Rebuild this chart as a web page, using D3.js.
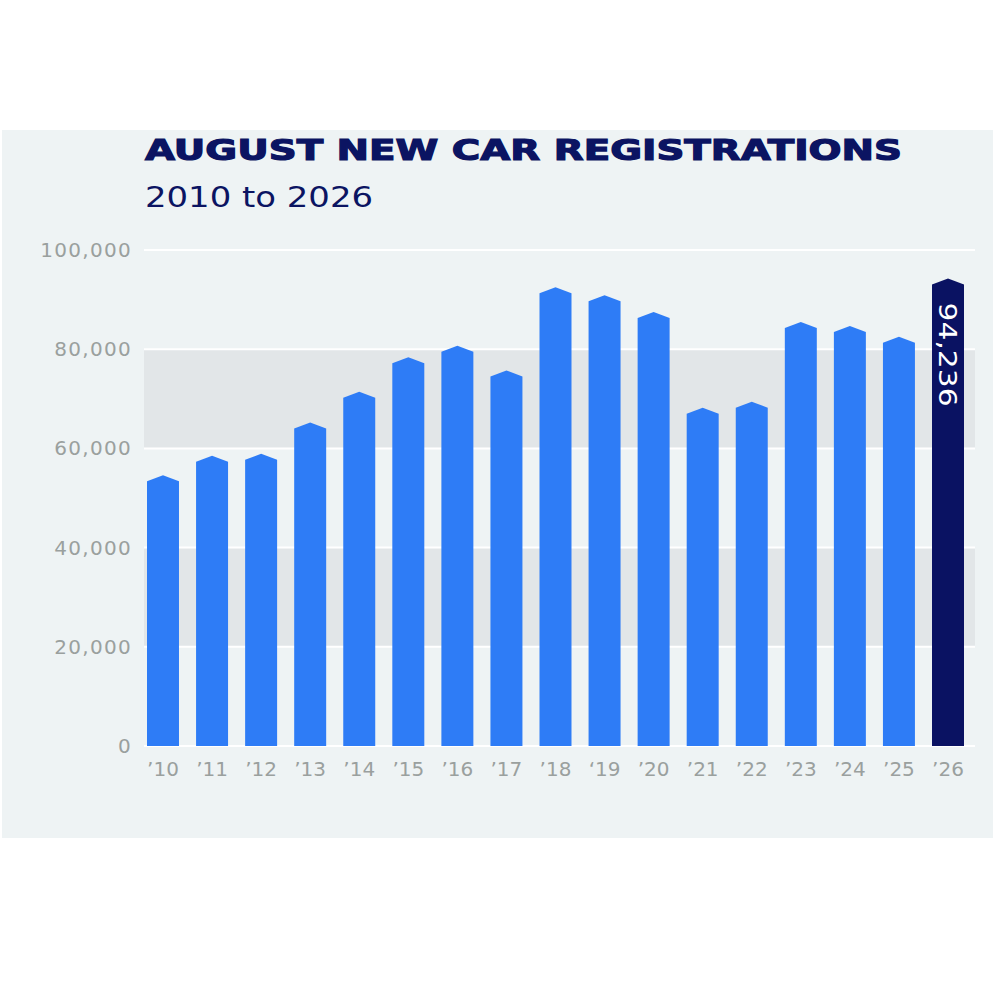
<!DOCTYPE html>
<html>
<head>
<meta charset="utf-8">
<script src="https://cdn.jsdelivr.net/npm/d3@7"></script>
<style>
  html, body { margin: 0; padding: 0; background: #ffffff; }
  svg { display: block; }
</style>
</head>
<body>
<svg id="chart" width="995" height="995"></svg>
<script>
// ---- data ----
const titleText = "AUGUST NEW CAR REGISTRATIONS";
const subtitleText = "2010 to 2026";
const years = ["’10","’11","’12","’13","’14","’15","’16","’17","’18","‘19","’20","’21","’22","’23","’24","’25","’26"];
const registrations = [54600, 58500, 58900, 65200, 71400, 78400, 80700, 75700, 92500, 90900, 87500, 68200, 69400, 85500, 84700, 82500, 94236];
const yTicks = [0, 20000, 40000, 60000, 80000, 100000];
const highlightIndex = 16;
const highlightLabel = "94,236";

// ---- style ----
const panelColor = "#eef3f4";
const bandColor = "#e2e6e8";
const barColor = "#2e7cf6";
const highlightColor = "#0a1262";
const navy = "#0b1462";
const tickColor = "#9aa09e";

const svg = d3.select("#chart");

// panel
svg.append("rect").attr("x", 2).attr("y", 130).attr("width", 991).attr("height", 708).attr("fill", panelColor);

const x = d3.scaleBand().domain(years).range([147, 964]).paddingInner(0.348).paddingOuter(0);
const y = d3.scaleLinear().domain([0, 100000]).range([746, 250]);

const gridX0 = 144, gridX1 = 975;

// alternating bands
const bands = [[20000, 40000], [60000, 80000]];
svg.append("g").selectAll("rect").data(bands).join("rect")
  .attr("x", gridX0).attr("width", gridX1 - gridX0)
  .attr("y", d => y(d[1])).attr("height", d => y(d[0]) - y(d[1]))
  .attr("fill", bandColor);

// gridlines
svg.append("g").selectAll("line").data(yTicks).join("line")
  .attr("x1", gridX0).attr("x2", gridX1)
  .attr("y1", d => y(d)).attr("y2", d => y(d))
  .attr("stroke", "#ffffff").attr("stroke-width", 2);

// y tick labels
const fmt = d3.format(",");
svg.append("g").selectAll("text").data(yTicks).join("text")
  .attr("x", 132).attr("y", d => y(d) + 7)
  .attr("text-anchor", "end")
  .attr("font-family", "DejaVu Sans, sans-serif")
  .attr("font-size", 20)
  .attr("letter-spacing", 1.3)
  .attr("fill", tickColor)
  .text(d => fmt(d));

// bars with pointed tops
const tip = 6;
const barPath = (d, i) => {
  const x0 = x(years[i]), x1 = x0 + x.bandwidth(), xc = x0 + x.bandwidth() / 2;
  const yt = y(d), yb = y(0);
  return `M${x0},${yb}L${x0},${yt + tip}L${xc},${yt}L${x1},${yt + tip}L${x1},${yb}Z`;
};
svg.append("g").selectAll("path").data(registrations).join("path")
  .attr("d", barPath)
  .attr("fill", (d, i) => i === highlightIndex ? highlightColor : barColor);

// highlight label (rotated)
{
  const d = registrations[highlightIndex];
  const cx = x(years[highlightIndex]) + x.bandwidth() / 2;
  svg.append("text")
    .attr("transform", `translate(${cx - 9},${y(d) + 24}) rotate(90)`)
    .attr("font-family", "DejaVu Sans, sans-serif")
    .attr("font-size", 25)
    .attr("fill", "#ffffff")
    .attr("textLength", 104)
    .attr("lengthAdjust", "spacingAndGlyphs")
    .text(highlightLabel);
}

// x labels
svg.append("g").selectAll("text").data(years).join("text")
  .attr("x", d => x(d) + x.bandwidth() / 2)
  .attr("y", 776)
  .attr("text-anchor", "middle")
  .attr("font-family", "DejaVu Sans, sans-serif")
  .attr("font-size", 20)
  .attr("fill", tickColor)
  .text(d => d);

// titles
svg.append("text")
  .attr("x", 145).attr("y", 160)
  .attr("font-family", "DejaVu Sans, sans-serif")
  .attr("font-weight", 900)
  .attr("font-size", 29)
  .attr("fill", navy)
  .attr("textLength", 757)
  .attr("lengthAdjust", "spacingAndGlyphs")
  .attr("stroke", navy).attr("stroke-width", 1.2)
  .text(titleText);

svg.append("text")
  .attr("x", 145).attr("y", 207)
  .attr("font-family", "DejaVu Sans, sans-serif")
  .attr("font-size", 28)
  .attr("fill", navy)
  .attr("textLength", 228)
  .attr("lengthAdjust", "spacingAndGlyphs")
  .text(subtitleText);
</script>
</body>
</html>
